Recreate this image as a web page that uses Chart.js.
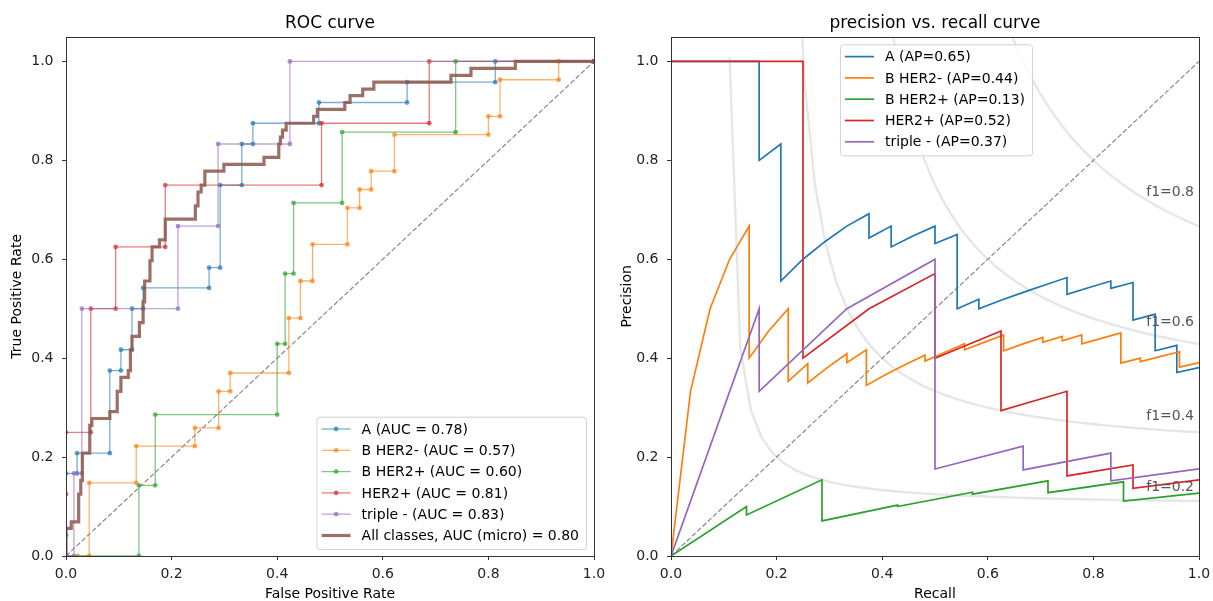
<!DOCTYPE html>
<html lang="en">
<head>
<meta charset="UTF-8">
<title>ROC and precision-recall curves</title>
<script src="https://cdn.jsdelivr.net/npm/chart.js"></script>
<style>
  body { margin: 0; background: #fff; }
  #wrap { position: relative; width: 1213px; height: 601px; }
  .box { position: absolute; top: 0; height: 601px; }
</style>
</head>
<body>
<div id="wrap">
  <div class="box" style="left:0;width:606px"><canvas id="roc"></canvas></div>
  <div class="box" style="left:606px;width:607px"><canvas id="pr"></canvas></div>
</div>
<script>
// --- data ---
const classNames = ['A', 'B HER2-', 'B HER2+', 'HER2+', 'triple -'];
const rocAuc = [0.78, 0.57, 0.60, 0.81, 0.83];
const microAuc = 0.80;
const prAp = [0.65, 0.44, 0.13, 0.52, 0.37];
const axisTicks = [0, 0.2, 0.4, 0.6, 0.8, 1.0];
const f1Levels = [0.2, 0.4, 0.6, 0.8];

// ROC curves (false positive rate / true positive rate)
const fprA = [0, 0, 0, 0.021, 0.021, 0.083, 0.083, 0.104, 0.104, 0.125, 0.125, 0.146, 0.146, 0.271, 0.271, 0.292, 0.292, 0.333, 0.333, 0.354, 0.354, 0.479, 0.479, 0.646, 0.646, 0.813, 0.813, 1];
const tprA = [0, 0.042, 0.167, 0.167, 0.208, 0.208, 0.375, 0.375, 0.417, 0.417, 0.5, 0.5, 0.542, 0.542, 0.583, 0.583, 0.75, 0.75, 0.833, 0.833, 0.875, 0.875, 0.917, 0.917, 0.958, 0.958, 1, 1];
const fprBneg = [0, 0.022, 0.044, 0.044, 0.133, 0.133, 0.244, 0.244, 0.289, 0.289, 0.311, 0.311, 0.422, 0.422, 0.444, 0.444, 0.467, 0.467, 0.533, 0.533, 0.556, 0.556, 0.578, 0.578, 0.622, 0.622, 0.8, 0.8, 0.822, 0.822, 0.933, 0.933, 1];
const tprBneg = [0, 0, 0, 0.148, 0.148, 0.222, 0.222, 0.259, 0.259, 0.333, 0.333, 0.370, 0.370, 0.481, 0.481, 0.556, 0.556, 0.630, 0.630, 0.704, 0.704, 0.741, 0.741, 0.778, 0.778, 0.852, 0.852, 0.889, 0.889, 0.963, 0.963, 1, 1];
const fprBpos = [0, 0.138, 0.138, 0.169, 0.169, 0.4, 0.4, 0.415, 0.415, 0.431, 0.431, 0.523, 0.523, 0.738, 0.738, 1];
const tprBpos = [0, 0, 0.143, 0.143, 0.286, 0.286, 0.429, 0.429, 0.571, 0.571, 0.714, 0.714, 0.857, 0.857, 1, 1];
const fprHer = [0, 0, 0, 0.047, 0.047, 0.094, 0.094, 0.188, 0.188, 0.484, 0.484, 0.688, 0.688, 1];
const tprHer = [0, 0.125, 0.25, 0.25, 0.5, 0.5, 0.625, 0.625, 0.75, 0.75, 0.875, 0.875, 1, 1];
const fprTri = [0, 0.015, 0.015, 0.030, 0.030, 0.212, 0.212, 0.288, 0.288, 0.424, 0.424, 1];
const tprTri = [0, 0, 0.167, 0.167, 0.5, 0.5, 0.667, 0.667, 0.833, 0.833, 1, 1];
const fprMicro = [0, 0, 0.010, 0.010, 0.024, 0.024, 0.028, 0.028, 0.031, 0.031, 0.045, 0.045, 0.049, 0.049, 0.083, 0.083, 0.097, 0.097, 0.104, 0.104, 0.118, 0.118, 0.122, 0.122, 0.125, 0.125, 0.139, 0.139, 0.146, 0.146, 0.149, 0.149, 0.159, 0.159, 0.163, 0.163, 0.177, 0.177, 0.188, 0.188, 0.245, 0.245, 0.250, 0.250, 0.256, 0.256, 0.263, 0.263, 0.299, 0.299, 0.375, 0.375, 0.403, 0.403, 0.406, 0.406, 0.410, 0.410, 0.417, 0.417, 0.469, 0.469, 0.476, 0.476, 0.528, 0.528, 0.538, 0.538, 0.562, 0.562, 0.583, 0.583, 0.729, 0.729, 0.767, 0.767, 0.851, 0.851, 1];
const tprMicro = [0, 0.056, 0.056, 0.069, 0.069, 0.125, 0.125, 0.153, 0.153, 0.208, 0.208, 0.264, 0.264, 0.278, 0.278, 0.292, 0.292, 0.333, 0.333, 0.361, 0.361, 0.375, 0.375, 0.417, 0.417, 0.444, 0.444, 0.472, 0.472, 0.514, 0.514, 0.556, 0.556, 0.597, 0.597, 0.625, 0.625, 0.639, 0.639, 0.681, 0.681, 0.708, 0.708, 0.736, 0.736, 0.750, 0.750, 0.778, 0.778, 0.792, 0.792, 0.806, 0.806, 0.833, 0.833, 0.847, 0.847, 0.861, 0.861, 0.875, 0.875, 0.889, 0.889, 0.903, 0.903, 0.917, 0.917, 0.931, 0.931, 0.944, 0.944, 0.958, 0.958, 0.972, 0.972, 0.986, 0.986, 1, 1];

// precision / recall curves
const recA = [0, 0.042, 0.167, 0.167, 0.208, 0.208, 0.25, 0.292, 0.333, 0.375, 0.375, 0.417, 0.417, 0.458, 0.5, 0.5, 0.542, 0.542, 0.583, 0.583, 0.625, 0.667, 0.708, 0.75, 0.75, 0.792, 0.833, 0.833, 0.875, 0.875, 0.917, 0.917, 0.958, 0.958, 1];
const preA = [1, 1, 1, 0.8, 0.833, 0.556, 0.6, 0.636, 0.667, 0.692, 0.643, 0.667, 0.625, 0.647, 0.667, 0.632, 0.65, 0.5, 0.519, 0.5, 0.517, 0.533, 0.548, 0.563, 0.529, 0.543, 0.556, 0.541, 0.553, 0.477, 0.489, 0.415, 0.426, 0.371, 0.381];
const recBneg = [0, 0.037, 0.074, 0.111, 0.148, 0.148, 0.185, 0.222, 0.222, 0.259, 0.259, 0.296, 0.333, 0.333, 0.370, 0.370, 0.407, 0.444, 0.481, 0.481, 0.519, 0.556, 0.556, 0.593, 0.630, 0.630, 0.667, 0.704, 0.704, 0.741, 0.741, 0.778, 0.778, 0.815, 0.852, 0.852, 0.889, 0.889, 0.926, 0.963, 0.963, 1];
const preBneg = [0, 0.333, 0.5, 0.6, 0.667, 0.4, 0.455, 0.5, 0.353, 0.389, 0.35, 0.381, 0.409, 0.391, 0.417, 0.345, 0.367, 0.387, 0.406, 0.394, 0.412, 0.429, 0.417, 0.432, 0.447, 0.415, 0.429, 0.442, 0.432, 0.444, 0.435, 0.447, 0.429, 0.44, 0.451, 0.39, 0.4, 0.393, 0.403, 0.413, 0.382, 0.391];
const recBpos = [0, 0.143, 0.143, 0.286, 0.286, 0.429, 0.429, 0.571, 0.571, 0.714, 0.714, 0.857, 0.857, 1];
const preBpos = [0, 0.1, 0.083, 0.154, 0.071, 0.103, 0.1, 0.129, 0.125, 0.152, 0.128, 0.15, 0.111, 0.127];
const recHer = [0, 0.125, 0.25, 0.25, 0.375, 0.5, 0.5, 0.625, 0.625, 0.75, 0.75, 0.875, 0.875, 1];
const preHer = [1, 1, 1, 0.4, 0.5, 0.571, 0.4, 0.455, 0.294, 0.333, 0.162, 0.184, 0.137, 0.154];
const recTri = [0, 0.167, 0.167, 0.333, 0.5, 0.5, 0.667, 0.667, 0.833, 0.833, 1];
const preTri = [0, 0.5, 0.333, 0.5, 0.6, 0.176, 0.222, 0.174, 0.208, 0.152, 0.176];

const colors = [[31, 119, 180], [255, 127, 14], [44, 160, 44], [214, 39, 40], [148, 103, 189]];
const rgba = (c, a) => `rgba(${c[0]},${c[1]},${c[2]},${a})`;
const pts = (xs, ys) => xs.map((x, i) => ({ x: x, y: ys[i] }));
const FONT = '"DejaVu Sans", "Liberation Sans", sans-serif';

const rocX = [fprA, fprBneg, fprBpos, fprHer, fprTri];
const rocY = [tprA, tprBneg, tprBpos, tprHer, tprTri];
const prX = [recA, recBneg, recBpos, recHer, recTri];
const prY = [preA, preBneg, preBpos, preHer, preTri];

function diagonal() {
  return {
    data: pts([0, 1], [0, 1]), showLine: true, borderColor: '#8a8a8a', borderWidth: 1.2,
    borderDash: [5, 2.2], pointRadius: 0, order: 100
  };
}

// iso-f1 guide curves (background), drawn through the chart's scales
const isoF1 = {
  id: 'isoF1',
  beforeDatasetsDraw(chart, args, o) {
    if (!o.show) return;
    const ctx = chart.ctx, a = chart.chartArea, xs = chart.scales.x, ys = chart.scales.y;
    ctx.save();
    ctx.beginPath(); ctx.rect(a.left, a.top, a.right - a.left, a.bottom - a.top); ctx.clip();
    ctx.strokeStyle = 'rgba(128,128,128,0.2)'; ctx.lineWidth = 2.4;
    f1Levels.forEach(f => {
      ctx.beginPath();
      let first = true;
      for (let i = 0; i < 50; i++) {
        const r = 0.01 + i * 0.99 / 49, p = f * r / (2 * r - f);
        if (p < 0) continue;
        const px = xs.getPixelForValue(r), py = ys.getPixelForValue(Math.min(p, 3));
        if (first) { ctx.moveTo(px, py); first = false; } else ctx.lineTo(px, py);
      }
      ctx.stroke();
    });
    ctx.restore();
  },
  afterDatasetsDraw(chart, args, o) {
    if (!o.show) return;
    const ctx = chart.ctx, xs = chart.scales.x, ys = chart.scales.y;
    ctx.save();
    ctx.font = '14px ' + FONT; ctx.fillStyle = '#555'; ctx.textAlign = 'left'; ctx.textBaseline = 'alphabetic';
    f1Levels.forEach(f => {
      const r = 0.01 + 45 * 0.99 / 49, p = f * r / (2 * r - f);
      ctx.fillText('f1=' + f.toFixed(1), xs.getPixelForValue(0.9), ys.getPixelForValue(p + 0.02));
    });
    ctx.restore();
  }
};

// frame, titles, axis labels and legend
const deco = {
  id: 'deco',
  afterDraw(chart, args, o) {
    const ctx = chart.ctx, a = chart.chartArea;
    ctx.save();
    ctx.strokeStyle = '#333'; ctx.lineWidth = 1;
    ctx.strokeRect(Math.round(a.left) + 0.5, Math.round(a.top) + 0.5, Math.round(a.right - a.left), Math.round(a.bottom - a.top));

    ctx.fillStyle = '#000';
    ctx.font = '17px ' + FONT; ctx.textAlign = 'center'; ctx.textBaseline = 'alphabetic';
    ctx.fillText(o.title, (a.left + a.right) / 2, a.top - 8.4);
    ctx.font = '14px ' + FONT;
    ctx.fillText(o.xLabel, (a.left + a.right) / 2, 598);
    ctx.save();
    ctx.translate(a.left - o.yLabelGap, (a.top + a.bottom) / 2); ctx.rotate(-Math.PI / 2);
    ctx.fillText(o.yLabel, 0, 0);
    ctx.restore();

    // legend
    const items = chart.data.datasets.filter(d => d.label);
    const tw = Math.max(...items.map(d => ctx.measureText(d.label).width));
    const w = 45 + tw + 7, rowH = 21.3, h = items.length * rowH + 4.5;
    let x0, y0;
    if (o.legendAt === 'lower right') { x0 = a.right - 8 - w; y0 = a.bottom - 7 - h; }
    else { x0 = (a.left + a.right) / 2 - w / 2 + 1; y0 = a.top + 7.6; }
    ctx.beginPath();
    if (ctx.roundRect) ctx.roundRect(x0 + 0.5, y0 + 0.5, w, h, 3); else ctx.rect(x0 + 0.5, y0 + 0.5, w, h);
    ctx.fillStyle = 'rgba(255,255,255,0.8)'; ctx.fill();
    ctx.strokeStyle = '#d3d3d3'; ctx.lineWidth = 1; ctx.stroke();
    items.forEach((d, i) => {
      const cy = y0 + 12.3 + i * rowH;
      ctx.strokeStyle = d.borderColor; ctx.lineWidth = d.borderWidth;
      ctx.beginPath(); ctx.moveTo(x0 + 5, cy); ctx.lineTo(x0 + 34, cy); ctx.stroke();
      if (d.pointRadius > 0) {
        ctx.fillStyle = d.pointBackgroundColor;
        ctx.beginPath(); ctx.arc(x0 + 19.5, cy, d.pointRadius, 0, 2 * Math.PI); ctx.fill();
      }
      ctx.fillStyle = '#000'; ctx.textAlign = 'left'; ctx.textBaseline = 'middle';
      ctx.fillText(d.label, x0 + 45, cy + 1);
    });
    ctx.restore();
  }
};

function axis(pos, max, size) {
  return {
    type: 'linear', position: pos, min: 0, max: max,
    afterBuildTicks: s => { s.ticks = axisTicks.map(v => ({ value: v })); },
    afterFit: s => {
      if (pos === 'left') { s.width = size; s.paddingTop = 0; s.paddingBottom = 0; }
      else { s.height = size; s.paddingLeft = 0; s.paddingRight = 0; }
    },
    grid: { drawOnChartArea: false, drawTicks: true, tickLength: 4, color: '#333', tickColor: '#333' },
    border: { display: false },
    ticks: {
      color: '#222', font: { family: FONT, size: 14 }, padding: pos === 'left' ? 8.5 : 5.5,
      maxRotation: 0, autoSkip: false, callback: v => v.toFixed(1)
    }
  };
}

function options(yWidth, padRight, deco, iso) {
  return {
    responsive: true, maintainAspectRatio: false, animation: false, events: [],
    layout: { padding: { top: 36.7, right: padRight, left: 0, bottom: 0 } },
    scales: { x: axis('bottom', 1, 45), y: axis('left', 1.05, yWidth) },
    plugins: { legend: { display: false }, tooltip: { enabled: false }, deco: deco, isoF1: { show: iso } }
  };
}

// ROC chart
const rocSets = [diagonal()];
classNames.forEach((name, i) => {
  rocSets.push({
    label: `${name} (AUC = ${rocAuc[i].toFixed(2)})`,
    data: pts(rocX[i], rocY[i]), showLine: true,
    borderColor: rgba(colors[i], 0.6), borderWidth: 1.3,
    pointRadius: 2.4, pointBackgroundColor: rgba(colors[i], 0.7), pointBorderWidth: 0,
    order: -i
  });
});
rocSets.push({
  label: `All classes, AUC (micro) = ${microAuc.toFixed(2)}`,
  data: pts(fprMicro, tprMicro), showLine: true,
  borderColor: 'rgba(140,86,75,0.85)', borderWidth: 3.2, pointRadius: 0, order: -10
});

new Chart(document.getElementById('roc'), {
  type: 'scatter',
  data: { datasets: rocSets },
  options: options(66, 12, { title: 'ROC curve', xLabel: 'False Positive Rate', yLabel: 'True Positive Rate', yLabelGap: 45, legendAt: 'lower right' }, false),
  plugins: [isoF1, deco]
});

// precision vs recall chart
const prSets = [diagonal()];
classNames.forEach((name, i) => {
  prSets.push({
    label: `${name} (AP=${prAp[i].toFixed(2)})`,
    data: pts(prX[i], prY[i]), showLine: true,
    borderColor: rgba(colors[i], 1), borderWidth: 1.7, pointRadius: 0,
    order: -i
  });
});

new Chart(document.getElementById('pr'), {
  type: 'scatter',
  data: { datasets: prSets },
  options: options(65, 14, { title: 'precision vs. recall curve', xLabel: 'Recall', yLabel: 'Precision', yLabelGap: 40, legendAt: 'upper center' }, true),
  plugins: [isoF1, deco]
});
</script>
</body>
</html>
